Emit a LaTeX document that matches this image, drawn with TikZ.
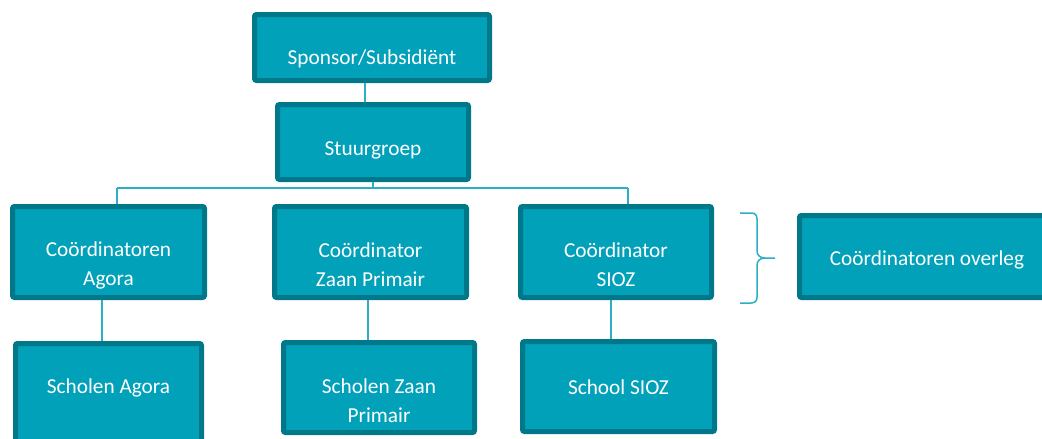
\documentclass[tikz,border=0pt]{standalone}
\usepackage{fontspec}
\setmainfont{Carlito}
\definecolor{boxfill}{HTML}{00A1B9}
\definecolor{boxedge}{HTML}{00788A}
\definecolor{conn}{HTML}{2AAFC5}
\tikzset{
  bx/.style={draw=boxedge, fill=boxfill, line width=5pt, rounded corners=2pt, rectangle, inner sep=0pt},
  txt/.style={text=white, align=center, inner sep=0pt, font=\fontsize{21.3}{29}\selectfont, yshift=-2.5pt},
  cn/.style={draw=conn, line width=1.5pt},
}
\begin{document}
\begin{tikzpicture}[x=1pt,y=-1pt]
\useasboundingbox (0,0) rectangle (1042,439);
% boxes (outer extents measured; path = outer - 5)
\node[bx, minimum width=235pt, minimum height=66pt] (spon) at (372,47.5) {};
\node[bx, minimum width=191pt, minimum height=75pt] (stuur) at (373,142) {};
\node[bx, minimum width=192pt, minimum height=91pt] (ca) at (108.5,252) {};
\node[bx, minimum width=192pt, minimum height=91pt] (cz) at (370.5,252) {};
\node[bx, minimum width=191pt, minimum height=91pt] (cs) at (616,252) {};
\node[bx, minimum width=255pt, minimum height=82pt] (ov) at (927,256.5) {};
\node[bx, minimum width=186pt, minimum height=99pt] (sa) at (108.5,393) {};
\node[bx, minimum width=191pt, minimum height=90pt] (sz) at (379,387.5) {};
\node[bx, minimum width=192pt, minimum height=90pt] (ss) at (618.5,386.5) {};
% texts
\node[txt] (spon-t) at (372,56) {Sponsor/Subsidiënt};
\node[txt] (stuur-t) at (373,148) {Stuurgroep};
\node[txt] (ca-t) at (108.5,263) {Coördinatoren\\Agora};
\node[txt] (cz-t) at (370.5,262) {Coördinator\\Zaan Primair};
\node[txt] (cs-t) at (616,262) {Coördinator\\SIOZ};
\node[txt] (ov-t) at (927,257) {Coördinatoren overleg};
\node[txt] (sa-t) at (108.5,385) {Scholen Agora};
\node[txt] (sz-t) at (379,398) {Scholen Zaan\\Primair};
\node[txt] (ss-t) at (618.5,385) {School SIOZ};
% connectors
\coordinate (busL) at (117,188);
\coordinate (busR) at (628,188);
\draw[cn] ([xshift=-7pt]spon.south) -- ([xshift=-7pt]spon.south |- stuur.north);
\draw[cn] (stuur.south) -- (stuur.south |- busL);
\draw[cn] (busL) -- (busR);
\draw[cn] (busL) -- (busL |- ca.north);
\draw[cn] (busR) -- (busR |- cs.north);
\draw[cn] ([xshift=-6.5pt]ca.south) -- ([xshift=-6.5pt]ca.south |- sa.north);
\draw[cn] ([xshift=-2.5pt]cz.south) -- ([xshift=-2.5pt]cz.south |- sz.north);
\draw[cn] ([xshift=-5pt]cs.south) -- ([xshift=-5pt]cs.south |- ss.north);
% brace
\draw[cn] (740,213) -- (751,213) .. controls (755,213) and (757,215) .. (757,219) -- (757,251)
  .. controls (757,255) and (760,258) .. (765,258) -- (775,258);
\draw[cn] (765,258) .. controls (760,258) and (757,261) .. (757,265) -- (757,297)
  .. controls (757,301) and (755,303) .. (751,303) -- (740,303);
\end{tikzpicture}
\end{document}
